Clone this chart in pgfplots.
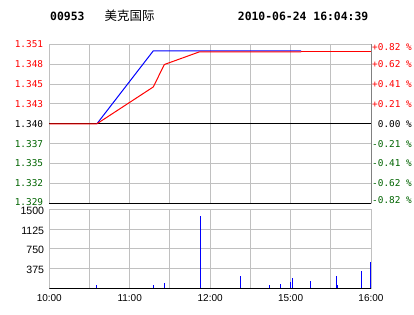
\documentclass[border=0pt]{standalone}
\usepackage{pgfplots}
\pgfplotsset{compat=1.18}
\usepackage{fontspec}
\setmainfont{Liberation Sans}
\newfontfamily\monof{DejaVu Sans Mono}
\newfontfamily\cjk{Noto Sans CJK SC}
\definecolor{pgreen}{RGB}{0,100,0}
\definecolor{gridc}{RGB}{192,192,192}
\definecolor{darkb}{RGB}{128,128,128}
\begin{document}
\begin{tikzpicture}[x=1pt,y=1pt]
\path[use as bounding box, fill=white] (0,0) rectangle (414,314);
\node[anchor=west,inner sep=0,font=\monof\bfseries\fontsize{11.4}{12}\selectfont] at (50,298) {00953};
\node[anchor=west,inner sep=0,font=\cjk\fontsize{12.5}{13}\selectfont] at (104.5,298) {美克国际};
\node[anchor=west,inner sep=0,font=\monof\bfseries\fontsize{11.4}{12}\selectfont] at (237.7,298) {2010-06-24 16:04:39};

% price panel
\begin{axis}[at={(49.3pt,110.7pt)}, anchor=south west, scale only axis,
  width=321.7pt, height=159pt, clip=false,
  xmin=0, xmax=240, ymin=1.329, ymax=1.351,
  xtick={0,30,...,240}, xticklabels={},
  ytick={1.329,1.33175,1.3345,1.33725,1.340,1.34275,1.3455,1.34825,1.351},
  yticklabels={\raisebox{3pt}{\textcolor{pgreen}{1.329}},\textcolor{pgreen}{1.332},\textcolor{pgreen}{1.335},\textcolor{pgreen}{1.337},1.340,\textcolor{red}{1.343},\textcolor{red}{1.345},\textcolor{red}{1.348},\raisebox{-3pt}{\textcolor{red}{1.351}}},
  yticklabel style={font=\monof\fontsize{9.4}{10}\selectfont, inner sep=0pt, xshift=-6pt},
  major tick length=0pt,
  grid=major, grid style={gridc, line width=1pt},
  axis line style={gridc, line width=1pt},
  ]
\addplot[black, line width=1pt] coordinates {(0,1.340) (240,1.340)};
\addplot[blue, line width=1pt] coordinates {(35.5,1.340) (77.6,1.3501) (187.8,1.3501)};
\addplot[red, line width=1pt] coordinates {(0,1.340) (35.5,1.340) (77.6,1.3451) (85.8,1.3482) (111.9,1.34995) (187.8,1.34995)};
\addplot[color=red, line width=1.4pt] coordinates {(187.8,1.35003) (240,1.35003)};
\draw[darkb, line width=1pt] (rel axis cs:1,0) -- (rel axis cs:1,1);
\draw[black, line width=1.6pt] (rel axis cs:0,0) -- (rel axis cs:1,0);
\begin{scope}[every node/.style={anchor=west, inner sep=0pt, xshift=1pt, font=\monof\fontsize{9.4}{10}\selectfont}]
\node[red, yshift=-3pt] at (axis cs:240,1.351) {+0.82 \%};
\node[red] at (axis cs:240,1.34825) {+0.62 \%};
\node[red] at (axis cs:240,1.3455) {+0.41 \%};
\node[red] at (axis cs:240,1.34275) {+0.21 \%};
\node[black] at (axis cs:240,1.340) {\ 0.00 \%};
\node[pgreen] at (axis cs:240,1.33725) {-0.21 \%};
\node[pgreen] at (axis cs:240,1.3345) {-0.41 \%};
\node[pgreen] at (axis cs:240,1.33175) {-0.62 \%};
\node[pgreen, yshift=3pt] at (axis cs:240,1.329) {-0.82 \%};
\end{scope}
\end{axis}

% volume panel
\begin{axis}[at={(49.3pt,25.7pt)}, anchor=south west, scale only axis,
  width=321.7pt, height=79pt,
  xmin=0, xmax=240, ymin=0, ymax=1500,
  xtick={0,30,...,240}, xticklabels={10:00,,11:00,,12:00,,15:00,,16:00},
  ytick={375,750,1125,1500},
  yticklabels={375,750,1125,\raisebox{-3pt}{1500}},
  yticklabel style={font=\fontsize{10.6}{11}\selectfont, inner sep=0pt, xshift=-5pt, yshift=-1.5pt},
  xticklabel style={font=\fontsize{10}{11}\selectfont, yshift=-3pt},
  major tick length=0pt,
  grid=major, grid style={gridc, line width=1pt},
  axis line style={gridc, line width=1pt},
  ]
\addplot[ycomb, blue, line width=1.2pt, no marks] coordinates {
(35.1,60) (77.6,60) (85.8,105) (112.7,1380) (142.5,234) (164.1,60) (172.3,80)
(179.8,120) (181.3,196) (194.7,140) (214.1,234) (214.9,60) (232.8,328) (239.5,500)};
\draw[black, line width=1.3pt] (rel axis cs:0,0) -- (rel axis cs:1,0);
\end{axis}
\end{tikzpicture}
\end{document}
